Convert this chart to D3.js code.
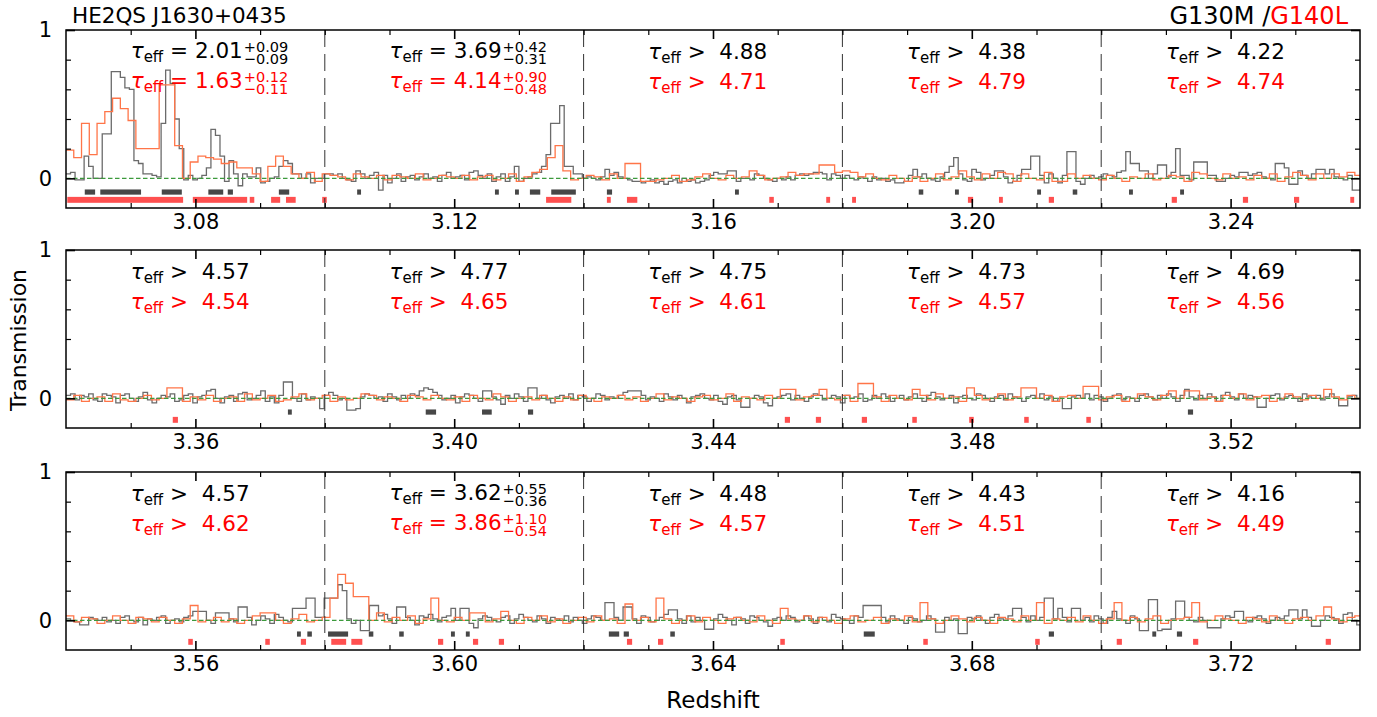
<!DOCTYPE html>
<html>
<head>
<meta charset="utf-8">
<script src="https://cdn.jsdelivr.net/npm/d3@7/dist/d3.min.js"></script>
<style>
  html, body { margin: 0; padding: 0; background: #fff; }
  svg text { font-family: "DejaVu Sans", sans-serif; white-space: pre; }
</style>
</head>
<body>
<svg id="chart" width="1377" height="717"></svg>
<script>
// ---------------------------------------------------------------
// Redshift windows shown in the three rows, and the 0.04-wide
// segments each row is divided into.
// ---------------------------------------------------------------
const panelRanges = [[3.06, 3.26], [3.34, 3.54], [3.54, 3.74]];
const segmentWidth = 0.04;
const majorTicks = [
  [3.08, 3.12, 3.16, 3.20, 3.24],
  [3.36, 3.40, 3.44, 3.48, 3.52],
  [3.56, 3.60, 3.64, 3.68, 3.72]
];
const yTickLabels = [0, 1];

// Bin widths (in redshift) of the two binned spectra.
const g130mBin = 0.0007;
const g140lBin = 0.0012;

// Transmission per bin, in units of 0.01, starting at each row's left edge.
const g130mRow1 = [
  3,4,-1,-1,15,8,0,0,30,30, 72,72,68,61,60,12,10,3,3,2, 1,37,73,64,40,20,-1,2,-1,0,
  2,7,33,29,15,-2,12,3,-5,3, 1,1,7,-3,-2,0,1,8,12,10, 3,3,0,3,-3,0,0,
  3,3,2,3,0,-1,-2,5,3,0, 2,4,-8,2,-3,0,3,-2,1,2, -1,1,3,0,1,-2,2,4,0,1,
  2,-1,4,5,2,0,3,-2,1,3, -2,1,8,-2,0,1,3,4,8,16, 37,37,49,8,8,3,3,0,
  1,0,-1,1,6,2,4,1,0,-1, -2,-2,-3,-2,-1,-3,-2,-4,-2,-1, -3,0,-2,-1,-3,-2,-1,2,4,3,
  3,5,5,-2,0,0,-1,3,2,0, -1,-2,0,-1,1,-1,2,3,2,3, 4,4,3,-1,3,2,0,
  2,0,-1,1,0,-2,1,-1,0,-2, -1,-3,-3,-2,2,6,1,3,0,-1, -2,1,4,8,14,3,-1,-2,6,4,
  -1,0,2,5,5,1,-3,-2,2,6, 6,15,15,2,-3,3,0,-3,2,18, 18,-2,-4,0,2,0,1,
  3,2,1,4,5,18,10,10,5,5, 0,3,9,9,1,4,20,2,2,-1, 11,11,11,2,2,-2,-2,0,2,1,
  4,4,2,3,4,1,0,-1,10,10, 7,-4,-4,5,2,0,3,6,6,3, 6,1,0,-1,2,-8,-8
];
const g140lRow1 = [
  19,14,37,16,37,45,54,47,39,20, 20,20,63,63,22,0,11,15,14,13, 10,11,7,7,3,-2,8,15,8,3, 0,4,-2,
  3,2,1,-1,3,1,0,2,-1,2, 1,0,3,-1,0,2,1,0,2,-1, 1,2,-1,0,3,-2,1,4,6,14, 22,5,-1,
  0,2,1,-1,3,0,10,10,-2,-2, -1,0,2,-2,-1,1,3,0,-1,2, 0,1,5,2,-1,0,1,4,2,3, 3,9,9,
  4,5,4,1,3,0,-1,2,0,-2, 1,-2,0,3,-1,1,5,1,-1,3, 0,4,3,-2,3,0,-1,4,-2,-2, 3,0,2,
  0,-1,2,0,-2,1,0,3,-1,0, 2,1,-2,4,3,0,-1,3,0,1, -1,2,0,3,-2,1,4,2,-1,3, 0,3,1,4,2
];
const g130mRow2 = [
  2,3,-1,2,1,3,-1,-2,3,2, 1,-3,2,3,0,-2,1,4,-1,-3, 0,2,1,3,-2,-1,2,3,-3,1,
  2,5,6,0,-3,1,2,-2,3,4, -1,0,2,5,-2,1,-3,2,11,11, 0,-2,3,-1,1,0,-7,2,4,2,
  -1,0,-8,-8,-7,1,3,2,0,1, -2,3,1,-1,2,0,3,2,5,7, 6,4,2,-1,0,2,-3,1,3,2,
  0,-2,5,5,1,-1,-4,2,0,3, 1,-2,7,7,0,2,-1,-3,1,2, 0,3,-1,2,1,-2,0,3,2,-1,
  1,0,2,4,5,5,5,2,-1,1, 0,-2,3,1,-1,2,0,-3,1,2, 3,0,-1,2,-2,-4,1,2,-1,-6,
  -6,0,2,1,-3,-5,0,1,2,3, -1,2,0,-2,1,3,2,-1,0,2, 1,-3,2,0,1,3,-2,-1,2,0,
  3,1,-2,0,2,-1,1,3,0,-2, 2,4,1,-1,0,2,-3,1,2,0, -1,3,2,0,-2,1,2,-1,3,1,
  0,-2,1,2,0,3,-1,1,-2,0, -7,-7,1,2,0,3,-1,2,1,-2, 0,2,3,-1,1,0,-2,2,3,1,
  -1,2,0,3,1,-2,2,6,1,-1, 2,0,3,1,-2,2,4,1,-1,3, 0,2,1,-6,-6,0,2,3,-1,1,
  2,0,-2,3,1,0,2,-1,1,3, 0,-5,-5,1,2,0
];
const g140lRow2 = [
  -1,2,-2,0,1,-2,3,-1,-2,0, 2,-1,0,7,7,-2,1,-1,2,-2, 0,1,-2,3,-1,0,2,-2,-1,1,
  3,-1,0,2,-2,1,-1,0,3,2, -1,1,0,-2,2,1,-1,2,0,-1, 1,-2,2,0,-1,3,1,-2,0,1,
  -1,2,0,-2,1,-1,2,0,-2,1, 0,2,-1,1,-2,0,3,-1,1,0, -2,1,2,-1,0,3,-2,1,0,-1,
  2,0,6,6,-1,1,2,6,0,-1, 2,-2,10,10,1,-2,2,0,-1,6, 2,-1,3,0,1,-2,7,2,-1,0,
  3,-1,1,7,7,0,2,-2,1,2, 0,8,8,-1,1,2,-2,0,3,1, -1,2,5,0,5,5,-1,1,-2,2,
  0,3,-1,1,2,-2,0,3,1,-1, 2,0,6,1,-1,2,0
];
const g130mRow3 = [
  1,0,-1,-3,-3,2,1,0,2,-1, 0,-2,2,3,0,-1,2,-3,1,0, 2,3,-2,0,1,-1,2,3,6,6,
  6,0,-2,5,5,5,1,-1,9,9, 2,-3,0,3,1,-2,4,2,0,-1, 8,8,8,15,15,2,2,15,15,15,
  24,20,1,-2,0,-7,-7,10,10,3, 4,1,-2,9,9,2,0,-3,3,2, 4,1,-1,2,3,8,0,8,8,-2,
  -5,1,3,2,0,-1,2,3,-2,1, 4,2,0,-1,3,1,-2,2,1,0, 3,-1,2,0,-2,1,3,2,0,12,
  12,2,0,9,9,1,-2,3,2,-1, 0,2,4,7,7,1,-2,3,-1,2, 0,-6,-6,1,4,2,0,-3,2,1,
  -2,3,2,0,-1,-4,1,2,0,3, 2,-1,0,3,1,-2,2,0,-1,4, 2,1,0,-2,3,2,10,10,10,10,
  2,-1,3,1,0,-2,2,1,-1,0, 3,1,-8,-8,2,0,1,-9,-9,2, 1,3,0,-2,2,4,1,0,3,8,
  8,2,-1,3,0,2,15,15,1,8, 2,-1,8,8,0,2,-1,3,1,-2, 2,6,1,0,-2,3,1,-7,-7,14,
  14,-7,-6,-6,1,13,13,2,0,-1, 2,0,-5,-5,-5,1,3,2,6,6, 0,-1,2,3,1,-2,0,2,1,3,
  7,7,1,7,2,-4,-4,0,3,2, 1,-2,4,5,0,-3
];
const g140lRow3 = [
  3,-1,2,1,-2,0,3,0,-2,2, 1,-1,2,0,-2,1,10,-1,0,2, -1,1,-2,0,3,5,5,0,-2,1,
  4,-1,0,2,15,31,25,16,16,0, 5,-1,2,0,3,-2,1,15,0,-1, 2,0,5,5,-1,1,6,0,-2,2,
  0,3,-1,1,-2,0,2,-1,3,0, 1,-2,11,0,2,-1,15,1,-2,0, 3,-1,2,0,-2,1,2,0,-1,3,
  0,-2,8,1,0,3,-1,2,0,-2, 1,3,-1,0,2,-2,1,0,3,-1, 12,1,-2,0,3,1,-1,2,0,-2,
  2,1,-1,3,0,12,-2,1,0,2, -1,3,0,-2,1,12,0,2,-1,1, 3,-2,0,1,2,12,-1,0,3,1,
  0,-2,2,1,-1,3,0,-2,1,2, 0,3,9,1,-1,2,3
];

// Effective optical depth per segment: relation, value, +err, -err.
const tauG130MRel = [["=", "=", ">", ">", ">"], [">", ">", ">", ">", ">"], [">", "=", ">", ">", ">"]];
const tauG130MVal = [["2.01", "3.69", "4.88", "4.38", "4.22"], ["4.57", "4.77", "4.75", "4.73", "4.69"], ["4.57", "3.62", "4.48", "4.43", "4.16"]];
const tauG130MUp  = [["0.09", "0.42", "", "", ""], ["", "", "", "", ""], ["", "0.55", "", "", ""]];
const tauG130MLo  = [["0.09", "0.31", "", "", ""], ["", "", "", "", ""], ["", "0.36", "", "", ""]];
const tauG140LRel = [["=", "=", ">", ">", ">"], [">", ">", ">", ">", ">"], [">", "=", ">", ">", ">"]];
const tauG140LVal = [["1.63", "4.14", "4.71", "4.79", "4.74"], ["4.54", "4.65", "4.61", "4.57", "4.56"], ["4.62", "3.86", "4.57", "4.51", "4.49"]];
const tauG140LUp  = [["0.12", "0.90", "", "", ""], ["", "", "", "", ""], ["", "1.10", "", "", ""]];
const tauG140LLo  = [["0.11", "0.48", "", "", ""], ["", "", "", "", ""], ["", "0.54", "", "", ""]];

// Masked redshift intervals for each spectrum.
const maskG130M = [
  [[3.0629,3.0645],[3.0653,3.0716],[3.0748,3.0779],[3.0820,3.0843],[3.0850,3.0858],[3.0929,3.0945],
   [3.1050,3.1056],[3.1263,3.1269],[3.1294,3.1300],[3.1317,3.1333],[3.1350,3.1388],[3.1436,3.1444],
   [3.1634,3.1640],[3.1918,3.1925],[3.1974,3.1980],[3.2101,3.2107],[3.2156,3.2163],[3.2243,3.2249],
   [3.2322,3.2328]],
  [[3.3743,3.3749],[3.3956,3.3972],[3.4043,3.4058],[3.4114,3.4122],[3.5134,3.5142]],
  [[3.5757,3.5763],[3.5773,3.5780],[3.5805,3.5836],[3.5868,3.5875],[3.5915,3.5922],[3.5995,3.6001],
   [3.6018,3.6024],[3.6239,3.6255],[3.6262,3.6270],[3.6334,3.6341],[3.6633,3.6650],[3.6919,3.6927],
   [3.7079,3.7085],[3.7117,3.7125]]
];
const maskG140L = [
  [[3.0602,3.0781],[3.0796,3.0880],[3.0884,3.0891],[3.0917,3.0931],[3.0940,3.0955],[3.0996,3.1003],
   [3.1342,3.1381],[3.1436,3.1442],[3.1467,3.1483],[3.1687,3.1694],[3.1775,3.1781],[3.1815,3.1821],
   [3.1994,3.2002],[3.2042,3.2048],[3.2119,3.2127],[3.2309,3.2317],[3.2419,3.2427],[3.2498,3.2506],
   [3.2585,3.2591]],
  [[3.3565,3.3573],[3.4511,3.4519],[3.4559,3.4567],[3.4630,3.4638],[3.4708,3.4715],[3.4796,3.4803],
   [3.4881,3.4888],[3.4977,3.4984]],
  [[3.5589,3.5596],[3.5708,3.5715],[3.5763,3.5771],[3.5810,3.5833],[3.5841,3.5858],[3.5975,3.5983],
   [3.6029,3.6037],[3.6069,3.6077],[3.6267,3.6275],[3.6315,3.6323],[3.6504,3.6511],[3.6725,3.6732],
   [3.6898,3.6905],[3.7024,3.7032],[3.7142,3.7150],[3.7347,3.7355]]
];

const g130mRows = [g130mRow1, g130mRow2, g130mRow3];
const g140lRows = [g140lRow1, g140lRow2, g140lRow3];

// ---------------------------------------------------------------
// Layout and style
// ---------------------------------------------------------------
const plotLeft = 66, plotRight = 1360;
const panelTops = [30, 250, 472];
const panelHeight = 178;
const colG130M = "#6b6b6b";
const colG140L = "#ff7548";
const colMaskG130M = "#474747";
const colMaskG140L = "#ff5050";
const colZero = "#3c9a3c";
const tauSize = 21.5, tauSubSize = 15, tauScriptSize = 14.5;
const tickSize = 21;

const svg = d3.select("#chart");

function stepData(values, start, bin) {
  const pts = values.map((v, k) => [start + k * bin, v / 100]);
  pts.push([start + values.length * bin, values[values.length - 1] / 100]);
  return pts;
}

// tau_eff label: italic tau, "eff" subscript, relation and value, and for
// measured values the asymmetric errors stacked as super/subscripts.
function tauLabel(g, x0, yLine, color, rel, val, up, lo) {
  const yBase = rel === "=" ? yLine - 1 : yLine;
  const t = g.append("text")
    .attr("x", x0).attr("y", yBase)
    .attr("fill", color).attr("font-size", tauSize);
  t.append("tspan").attr("font-style", "italic").text("τ");
  t.append("tspan").attr("font-size", tauSubSize).attr("dy", 4).text("eff");
  t.append("tspan").attr("dy", -4).text(rel === "=" ? " = " + val : " >  " + val);
  if (rel === "=") {
    const xs = x0 + t.node().getComputedTextLength() + 1;
    t.append("tspan").attr("x", xs).attr("y", yBase - 6.5)
      .attr("font-size", tauScriptSize).text("+" + up);
    t.append("tspan").attr("x", xs).attr("y", yBase + 6)
      .attr("font-size", tauScriptSize).text("\u2212" + lo);
  }
}

panelRanges.forEach((range, pi) => {
  const top = panelTops[pi];
  const bottom = top + panelHeight;
  const x = d3.scaleLinear().domain(range).range([plotLeft, plotRight]);
  const y = d3.scaleLinear().domain([-0.2, 1]).range([bottom, top]);
  const g = svg.append("g");

  const clipId = "clip" + pi;
  svg.append("clipPath").attr("id", clipId)
    .append("rect").attr("x", plotLeft).attr("y", top)
    .attr("width", plotRight - plotLeft).attr("height", panelHeight);
  const inner = g.append("g").attr("clip-path", `url(#${clipId})`);

  const line = d3.line().x(d => x(d[0])).y(d => y(d[1])).curve(d3.curveStepAfter);

  inner.append("path")
    .datum(stepData(g130mRows[pi], range[0], g130mBin))
    .attr("d", line).attr("fill", "none")
    .attr("stroke", colG130M).attr("stroke-width", 1.3);
  inner.append("path")
    .datum(stepData(g140lRows[pi], range[0], g140lBin))
    .attr("d", line).attr("fill", "none")
    .attr("stroke", colG140L).attr("stroke-width", 1.3);

  // zero level
  inner.append("line")
    .attr("x1", plotLeft).attr("x2", plotRight)
    .attr("y1", y(0)).attr("y2", y(0))
    .attr("stroke", colZero).attr("stroke-width", 1.1)
    .attr("stroke-dasharray", "4.5,2.5");

  // masks
  inner.selectAll(".m130").data(maskG130M[pi]).enter().append("rect")
    .attr("x", d => x(d[0])).attr("width", d => x(d[1]) - x(d[0]))
    .attr("y", y(-0.075)).attr("height", y(-0.11) - y(-0.075))
    .attr("fill", colMaskG130M);
  inner.selectAll(".m140").data(maskG140L[pi]).enter().append("rect")
    .attr("x", d => x(d[0])).attr("width", d => x(d[1]) - x(d[0]))
    .attr("y", y(-0.125)).attr("height", y(-0.165) - y(-0.125))
    .attr("fill", colMaskG140L);

  // segment boundaries
  const edges = d3.range(1, 5).map(k => range[0] + k * segmentWidth);
  g.selectAll(".seg").data(edges).enter().append("line")
    .attr("x1", d => x(d)).attr("x2", d => x(d))
    .attr("y1", top).attr("y2", bottom)
    .attr("stroke", "#333").attr("stroke-width", 1)
    .attr("stroke-dasharray", "17,7");

  // axes
  const minor = d3.range(range[0] + 0.01, range[1] - 0.005, 0.01)
    .map(v => +v.toFixed(2)).filter(v => !majorTicks[pi].some(m => Math.abs(m - v) < 1e-6));
  const yMinor = [0.2, 0.4, 0.6, 0.8];

  const axStyle = sel => {
    sel.select(".domain").remove();
    sel.selectAll(".tick line").attr("stroke", "#000");
    sel.selectAll("text").attr("fill", "#000").attr("font-size", tickSize)
      .style("font-family", "DejaVu Sans, sans-serif");
  };

  g.append("g").attr("transform", `translate(0,${bottom})`)
    .call(d3.axisBottom(x).tickValues(minor).tickSize(-5).tickFormat(""))
    .call(axStyle).selectAll(".tick line").attr("stroke-width", 1.2);
  g.append("g").attr("transform", `translate(0,${bottom})`)
    .call(d3.axisBottom(x).tickValues(majorTicks[pi]).tickSize(-9).tickPadding(6)
      .tickFormat(d3.format(".2f")))
    .call(axStyle).selectAll(".tick line").attr("stroke-width", 1.6);
  g.append("g").attr("transform", `translate(0,${top})`)
    .call(d3.axisTop(x).tickValues(minor).tickSize(-5).tickFormat(""))
    .call(axStyle).selectAll(".tick line").attr("stroke-width", 1.2);
  g.append("g").attr("transform", `translate(0,${top})`)
    .call(d3.axisTop(x).tickValues(majorTicks[pi]).tickSize(-9).tickFormat(""))
    .call(axStyle).selectAll(".tick line").attr("stroke-width", 1.6);

  g.append("g").attr("transform", `translate(${plotLeft},0)`)
    .call(d3.axisLeft(y).tickValues(yMinor).tickSize(-5).tickFormat(""))
    .call(axStyle).selectAll(".tick line").attr("stroke-width", 1.2);
  g.append("g").attr("transform", `translate(${plotLeft},0)`)
    .call(d3.axisLeft(y).tickValues(yTickLabels).tickSize(-9).tickPadding(14)
      .tickFormat(d3.format("d")))
    .call(axStyle).selectAll(".tick line").attr("stroke-width", 1.6);
  g.append("g").attr("transform", `translate(${plotRight},0)`)
    .call(d3.axisRight(y).tickValues(yMinor).tickSize(-5).tickFormat(""))
    .call(axStyle).selectAll(".tick line").attr("stroke-width", 1.2);
  g.append("g").attr("transform", `translate(${plotRight},0)`)
    .call(d3.axisRight(y).tickValues(yTickLabels).tickSize(-9).tickFormat(""))
    .call(axStyle).selectAll(".tick line").attr("stroke-width", 1.6);

  // frame
  g.append("rect").attr("x", plotLeft).attr("y", top)
    .attr("width", plotRight - plotLeft).attr("height", panelHeight)
    .attr("fill", "none").attr("stroke", "#000").attr("stroke-width", 1.5);

  // optical depth labels
  for (let k = 0; k < 5; k++) {
    const x0 = x(range[0] + k * segmentWidth + 0.01);
    tauLabel(g, x0, top + 29, "#000", tauG130MRel[pi][k], tauG130MVal[pi][k], tauG130MUp[pi][k], tauG130MLo[pi][k]);
    tauLabel(g, x0, top + 59, "#ff0000", tauG140LRel[pi][k], tauG140LVal[pi][k], tauG140LUp[pi][k], tauG140LLo[pi][k]);
  }
});

// titles and axis names
svg.append("text").attr("x", 72).attr("y", 23).attr("font-size", 21.5)
  .attr("fill", "#000").text("HE2QS J1630+0435");
const leg = svg.append("text").attr("x", 1348).attr("y", 24).attr("font-size", 24)
  .attr("text-anchor", "end");
leg.append("tspan").attr("fill", "#000").text("G130M /");
leg.append("tspan").attr("fill", "#ff0000").text("G140L");

svg.append("text").attr("x", 713).attr("y", 708).attr("font-size", 23)
  .attr("text-anchor", "middle").attr("fill", "#000").text("Redshift");
svg.append("text").attr("transform", "translate(26,340) rotate(-90)").attr("font-size", 22)
  .attr("text-anchor", "middle").attr("fill", "#000").text("Transmission");
</script>
</body>
</html>
